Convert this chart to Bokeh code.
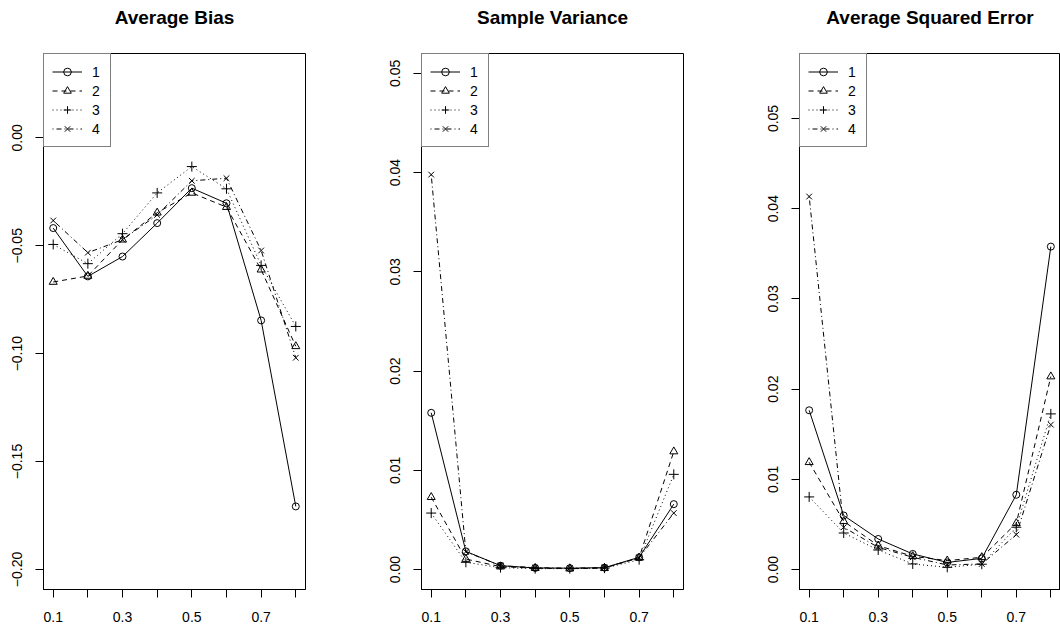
from bokeh.plotting import figure
from bokeh.layouts import row
from bokeh.models import Range1d, FixedTicker, Legend, LegendItem, Title
from bokeh.embed import file_html
from bokeh.resources import INLINE

# ---------------- data ----------------
x_vals = [0.1, 0.2, 0.3, 0.4, 0.5, 0.6, 0.7, 0.8]
x_ticks = [0.1, 0.2, 0.3, 0.4, 0.5, 0.6, 0.7, 0.8]
x_tick_labels = ["0.1", "", "0.3", "", "0.5", "", "0.7", ""]
series_names = ["1", "2", "3", "4"]

titles = ["Average Bias", "Sample Variance", "Average Squared Error"]

bias_1 = [-0.0418, -0.0642, -0.0550, -0.0395, -0.0233, -0.0303, -0.0846, -0.1708]
bias_2 = [-0.0668, -0.0640, -0.0472, -0.0347, -0.0255, -0.0321, -0.0611, -0.0966]
bias_3 = [-0.0494, -0.0583, -0.0444, -0.0255, -0.0133, -0.0236, -0.0591, -0.0874]
bias_4 = [-0.0383, -0.0532, -0.0472, -0.0357, -0.0199, -0.0187, -0.0522, -0.1019]

var_1 = [0.0158, 0.00184, 0.00040, 0.00017, 0.00015, 0.00020, 0.00124, 0.0066]
var_2 = [0.0073, 0.00107, 0.00030, 0.00015, 0.00010, 0.00015, 0.00120, 0.0119]
var_3 = [0.0057, 0.00074, 0.00020, 0.00010, 0.00010, 0.00015, 0.00100, 0.0096]
var_4 = [0.0398, 0.00180, 0.00040, 0.00020, 0.00015, 0.00020, 0.00120, 0.0057]

ase_1 = [0.01766, 0.0060, 0.0034, 0.00174, 0.00080, 0.00125, 0.0083, 0.0358]
ase_2 = [0.0119, 0.00536, 0.00266, 0.00148, 0.00100, 0.00137, 0.00514, 0.0214]
ase_3 = [0.00806, 0.00406, 0.00218, 0.00063, 0.00026, 0.00060, 0.0047, 0.01726]
ase_4 = [0.04135, 0.0047, 0.00247, 0.00137, 0.00052, 0.00063, 0.00388, 0.01607]

bias_yticks = [0.0, -0.05, -0.10, -0.15, -0.20]
bias_ylabels = ["0.00", "\u22120.05", "\u22120.10", "\u22120.15", "\u22120.20"]
var_yticks = [0.0, 0.01, 0.02, 0.03, 0.04, 0.05]
var_ylabels = ["0.00", "0.01", "0.02", "0.03", "0.04", "0.05"]
ase_yticks = [0.0, 0.01, 0.02, 0.03, 0.04, 0.05]
ase_ylabels = ["0.00", "0.01", "0.02", "0.03", "0.04", "0.05"]

# ---------------- styling ----------------
FONT = "Liberation Sans"
dashes = ["solid", "5 4", "1 3", "1 3 5 3"]
markers = ["circle", "triangle", "cross", "x"]
msizes = [7, 8, 10, 8]

XR = (0.072, 0.828)


def make_panel(title, series, yrange, yticks, ylabels, width, border_right):
    p = figure(width=width, height=630, output_backend="svg", toolbar_location=None,
               title=None,
               x_range=Range1d(*XR), y_range=Range1d(*yrange),
               min_border_left=43, min_border_right=border_right,
               min_border_top=53, min_border_bottom=41)
    # spacer between frame and title (closest to frame)
    p.add_layout(Title(text=" ", text_font_size="1px", standoff=16,
                       text_color="white"), "above")
    p.add_layout(Title(text=title, align="center", vertical_align="top",
                       text_font=FONT, text_font_size="19px",
                       text_font_style="bold", text_color="black",
                       standoff=10), "above")
    p.xgrid.visible = False
    p.ygrid.visible = False
    p.outline_line_color = "black"
    p.outline_line_width = 1
    p.outline_line_alpha = 1
    p.background_fill_color = "white"
    p.border_fill_color = "white"

    for ax in (p.xaxis[0], p.yaxis[0]):
        ax.axis_line_color = "black"
        ax.major_tick_line_color = "black"
        ax.major_tick_out = 8
        ax.major_tick_in = 0
        ax.minor_tick_line_color = None
        ax.major_label_text_font = FONT
        ax.major_label_text_font_size = "14px"
        ax.major_label_text_color = "black"

    p.xaxis[0].ticker = FixedTicker(ticks=x_ticks)
    p.xaxis[0].major_label_overrides = {t: l for t, l in zip(x_ticks, x_tick_labels)}
    p.xaxis[0].major_label_standoff = 14
    p.yaxis[0].ticker = FixedTicker(ticks=yticks)
    p.yaxis[0].major_label_overrides = {t: l for t, l in zip(yticks, ylabels)}
    p.yaxis[0].major_label_orientation = "vertical"
    p.yaxis[0].major_label_standoff = 13

    items = []
    for i, ys in enumerate(series):
        lr = p.line(x_vals, ys, line_color="black", line_width=1, line_dash=dashes[i])
        sr = p.scatter(x_vals, ys, marker=markers[i], size=msizes[i],
                       line_color="black", fill_color=None, line_width=1)
        items.append(LegendItem(label=series_names[i], renderers=[lr, sr]))

    leg = Legend(items=items, location="top_left", margin=0, padding=8,
                 spacing=0, glyph_width=30, glyph_height=19, label_height=19,
                 label_width=10, label_standoff=10,
                 label_text_font=FONT, label_text_font_size="14px",
                 label_text_color="black",
                 border_line_color="black", border_line_width=1,
                 background_fill_color="white", background_fill_alpha=1)
    p.add_layout(leg)
    return p


p1 = make_panel(titles[0], [bias_1, bias_2, bias_3, bias_4], (-0.2093, 0.0391),
                bias_yticks, bias_ylabels, 378, 73)
p2 = make_panel(titles[1], [var_1, var_2, var_3, var_4], (-0.0020, 0.0520),
                var_yticks, var_ylabels, 378, 73)
p3 = make_panel(titles[2], [ase_1, ase_2, ase_3, ase_4], (-0.0022, 0.0572),
                ase_yticks, ase_ylabels, 304, 0)

layout = row(p1, p2, p3, spacing=0)

open("out.html", "w").write(file_html(layout, INLINE))
